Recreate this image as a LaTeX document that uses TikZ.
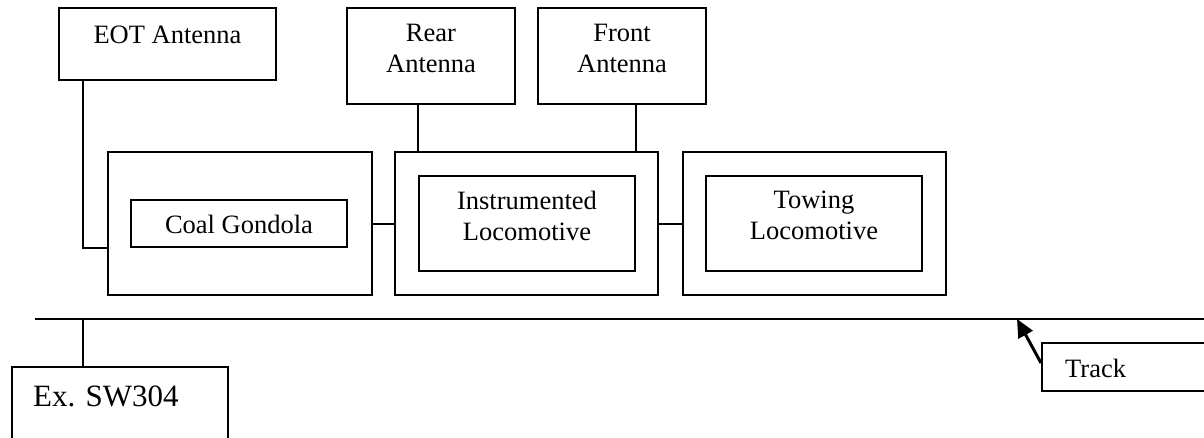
\documentclass[tikz,border=0pt]{standalone}
\usepackage{fontspec}
\setmainfont{Liberation Serif}
\usetikzlibrary{arrows.meta}
\begin{document}
\begin{tikzpicture}[x=1pt,y=-1pt,
  box/.style={draw,rectangle,line width=2pt,inner sep=0pt},
  txt/.style={inner sep=0pt,anchor=south,align=center,font=\fontsize{26.5}{31}\selectfont},
  wire/.style={line width=2pt}]
\useasboundingbox (0,0) rectangle (1204,437);
\fill[white] (0,0) rectangle (1204,437);

% antennas
\node[box,minimum width=217pt,minimum height=72pt] (eot) at (167.5,44) {};
\node[box,minimum width=168pt,minimum height=96pt] (rear) at (431,56) {};
\node[box,minimum width=168pt,minimum height=96pt] (front) at (622,56) {};
\node[txt] (eottxt) at (167.5,44) {EOT Antenna};
\node[txt] (reartxt) at (431,73) {Rear\\Antenna};
\node[txt] (fronttxt) at (622,73) {Front\\Antenna};

% cars
\node[box,minimum width=264pt,minimum height=143pt] (coalout) at (240,223.5) {};
\node[box,minimum width=216pt,minimum height=47pt] (coalin) at (239,223.5) {};
\node[box,minimum width=263pt,minimum height=143pt] (instrout) at (526.5,223.5) {};
\node[box,minimum width=216pt,minimum height=95pt] (instrin) at (527,223.5) {};
\node[box,minimum width=263pt,minimum height=143pt] (towout) at (814.5,223.5) {};
\node[box,minimum width=216pt,minimum height=95pt] (towin) at (814,223.5) {};
\node[txt] (coaltxt) at (239,234) {Coal Gondola};
\node[txt] (instrtxt) at (527,241) {Instrumented\\Locomotive};
\node[txt] (towtxt) at (814,240) {Towing\\Locomotive};

% track and wayside
\coordinate (trackL) at (35,319);
\coordinate (trackR) at (1210,319);
\coordinate (legx) at (83,0);
\coordinate (tip) at (1017,319);
\node[box,minimum width=216pt,minimum height=113pt] (ex) at (120,423.5) {};
\node[box,minimum width=198pt,minimum height=48pt] (trackbox) at (1141,367) {};
\node[inner sep=0pt,anchor=south west,font=\fontsize{31}{36}\selectfont] (extxt) at (33,407) {Ex. SW304};
\node[inner sep=0pt,anchor=south west,font=\fontsize{26.5}{31}\selectfont] (tracktxt) at (1065,378) {Track};

% connectors
\draw[wire] (eot.south -| legx) |- (coalout.west |- coalin.south);
\draw[wire] (rear.south -| instrin.west) -- (instrout.north -| instrin.west);
\draw[wire] (front.south -| instrin.east) -- (instrout.north -| instrin.east);
\draw[wire] (coalout.east) -- (instrout.west);
\draw[wire] (instrout.east) -- (towout.west);
\draw[wire] (trackL) -- (trackR);
\draw[wire] (trackL -| legx) -- (ex.north -| legx);
\draw[line width=3pt,-{Triangle[length=18pt,width=16pt]}] ([yshift=4pt]trackbox.west) -- (tip);
\end{tikzpicture}
\end{document}
